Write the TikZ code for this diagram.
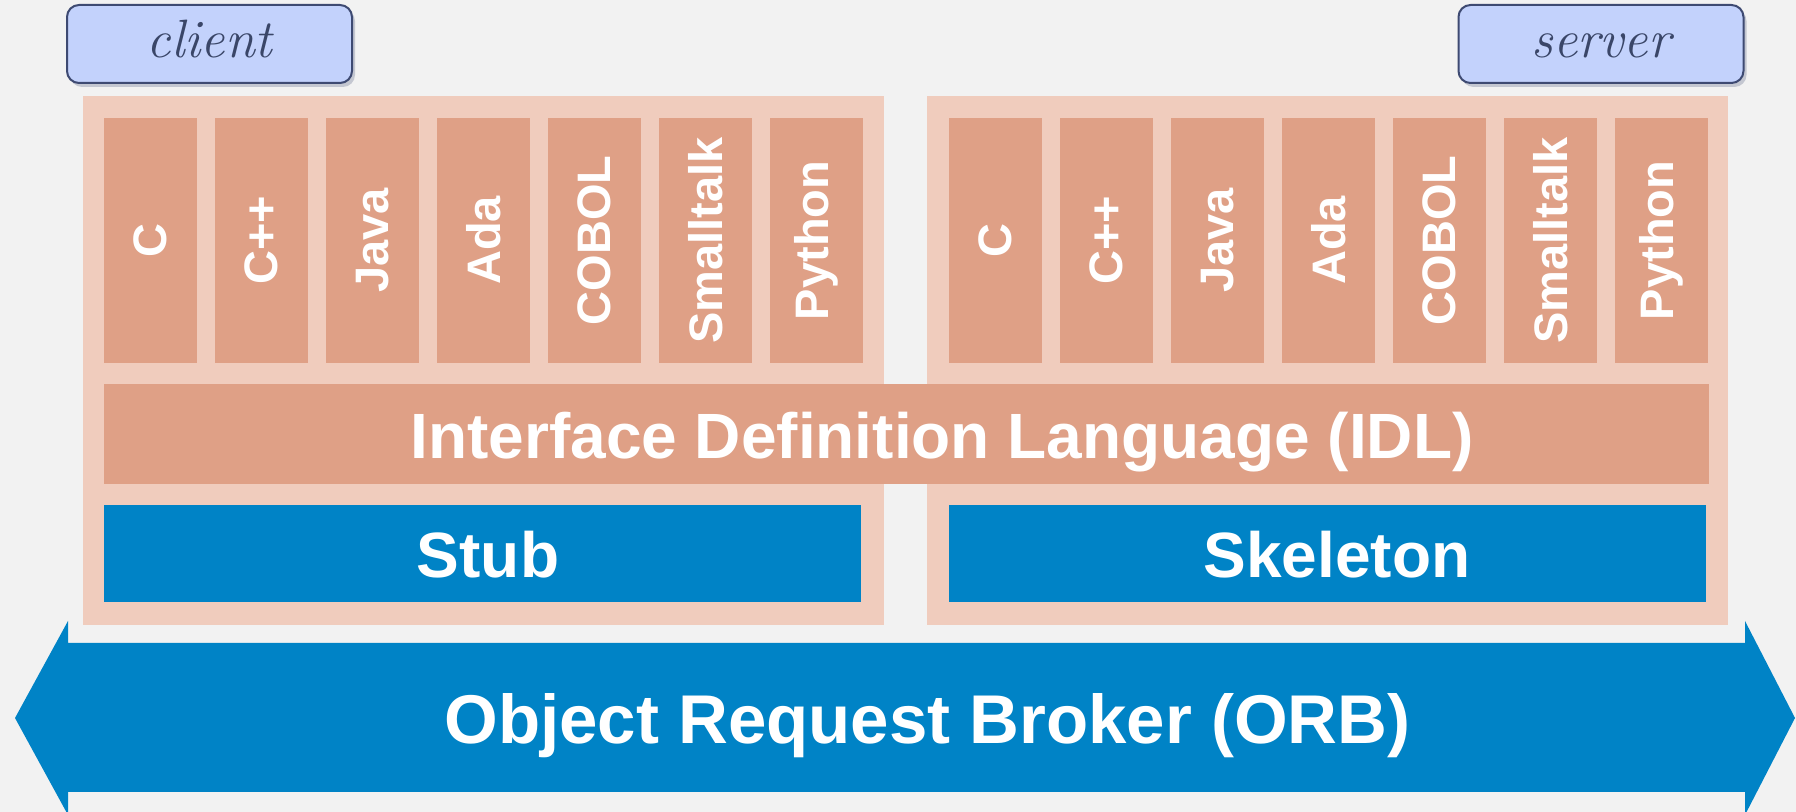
\documentclass[tikz,border=0pt]{standalone}
\usepackage{fontspec}
\setmainfont{Liberation Sans}
\newfontfamily\handfont{Latin Modern Roman}
\usetikzlibrary{shadows}
\definecolor{bgc}{HTML}{F2F2F2}
\definecolor{panelc}{HTML}{F0CCBD}
\definecolor{salmon}{HTML}{DFA086}
\definecolor{orbblue}{HTML}{0083C6}
\definecolor{labfill}{HTML}{C3D2FC}
\definecolor{labdraw}{HTML}{3E4A72}
\definecolor{labtext}{HTML}{3A4668}
\tikzset{
  panel/.style={fill=panelc, draw=none, minimum width=400.5pt, minimum height=264.5pt, inner sep=0pt},
  langcol/.style={fill=salmon, draw=none, rotate=90, minimum width=122.5pt, minimum height=46.5pt, inner sep=0pt,
    text=white, font=\bfseries\fontsize{23.5pt}{28pt}\selectfont},
  idlbar/.style={fill=salmon, draw=none, minimum width=802.5pt, minimum height=50pt, inner sep=0pt},
  idltext/.style={text=white, font=\bfseries\fontsize{32pt}{38pt}\selectfont, text height=22.9pt, text depth=0pt, inner sep=0pt},
  bluebar/.style={fill=orbblue, draw=none, minimum width=378.5pt, minimum height=48.5pt, inner sep=0pt},
  bluetext/.style={text=white, font=\bfseries\fontsize{32pt}{38pt}\selectfont, text height=22.9pt, text depth=0pt, inner sep=0pt},
  orbtext/.style={text=white, font=\bfseries\fontsize{34.5pt}{40pt}\selectfont, text height=24.7pt, text depth=0pt, inner sep=0pt},
  labelbox/.style={fill=labfill, draw=labdraw, line width=1pt, rounded corners=6pt,
    minimum width=142.5pt, minimum height=39pt, inner sep=0pt,
    drop shadow={shadow xshift=1.5pt, shadow yshift=-2pt, opacity=0.25, fill=labdraw}},
  labeltext/.style={text=labtext, font=\handfont\itshape\fontsize{27pt}{32pt}\selectfont, inner sep=0pt, anchor=base}
}
\begin{document}
\begin{tikzpicture}[x=0.5pt, y=-0.5pt]
\useasboundingbox (0,0) rectangle (1796,812);
\clip (0,0) rectangle (1796,812);
\fill[bgc] (0,0) rectangle (1796,812);

% label boxes
\node[labelbox] (clientbox) at (209.5,44) {};
\node[labeltext] (clienttxt) at (209.5,58) {client};
\node[labelbox] (serverbox) at (1601,44) {};
\node[labeltext] (servertxt) at (1601,58) {server};

% panels
\node[panel] (lpanel) at (483.5,360.5) {};
\node[panel] (rpanel) at (1327.5,360.5) {};

% language columns, client side
\node[langcol] (lc1) at (150.5,240.5) {C};
\node[langcol] (lc2) at (261.5,240.5) {C++};
\node[langcol] (lc3) at (372.5,240.5) {Java};
\node[langcol] (lc4) at (483.5,240.5) {Ada};
\node[langcol] (lc5) at (594.5,240.5) {COBOL};
\node[langcol] (lc6) at (705.5,240.5) {Smalltalk};
\node[langcol] (lc7) at (816.5,240.5) {Python};

% language columns, server side
\node[langcol] (rc1) at (995.5,240.5) {C};
\node[langcol] (rc2) at (1106.5,240.5) {C++};
\node[langcol] (rc3) at (1217.5,240.5) {Java};
\node[langcol] (rc4) at (1328.5,240.5) {Ada};
\node[langcol] (rc5) at (1439.5,240.5) {COBOL};
\node[langcol] (rc6) at (1550.5,240.5) {Smalltalk};
\node[langcol] (rc7) at (1661.5,240.5) {Python};

% IDL
\node[idlbar] (idl) at (906.5,434) {};
\node[idltext] (idltxt) at (942,436) {Interface Definition Language (IDL)};

% stub / skeleton
\node[bluebar] (stub) at (482.5,553.5) {};
\node[bluetext] (stubtxt) at (488,555) {Stub};
\node[bluebar] (skel) at (1327.5,553.5) {};
\node[bluetext] (skeltxt) at (1337,555) {Skeleton};

% ORB double arrow
\fill[orbblue] (15,718) -- (68,621) -- (68,643) -- (1745,643) -- (1745,621) -- (1795,718)
  -- (1745,815) -- (1745,792) -- (68,792) -- (68,815) -- cycle;
\node[orbtext] (orb) at (927.5,719) {Object Request Broker (ORB)};
\end{tikzpicture}
\end{document}
